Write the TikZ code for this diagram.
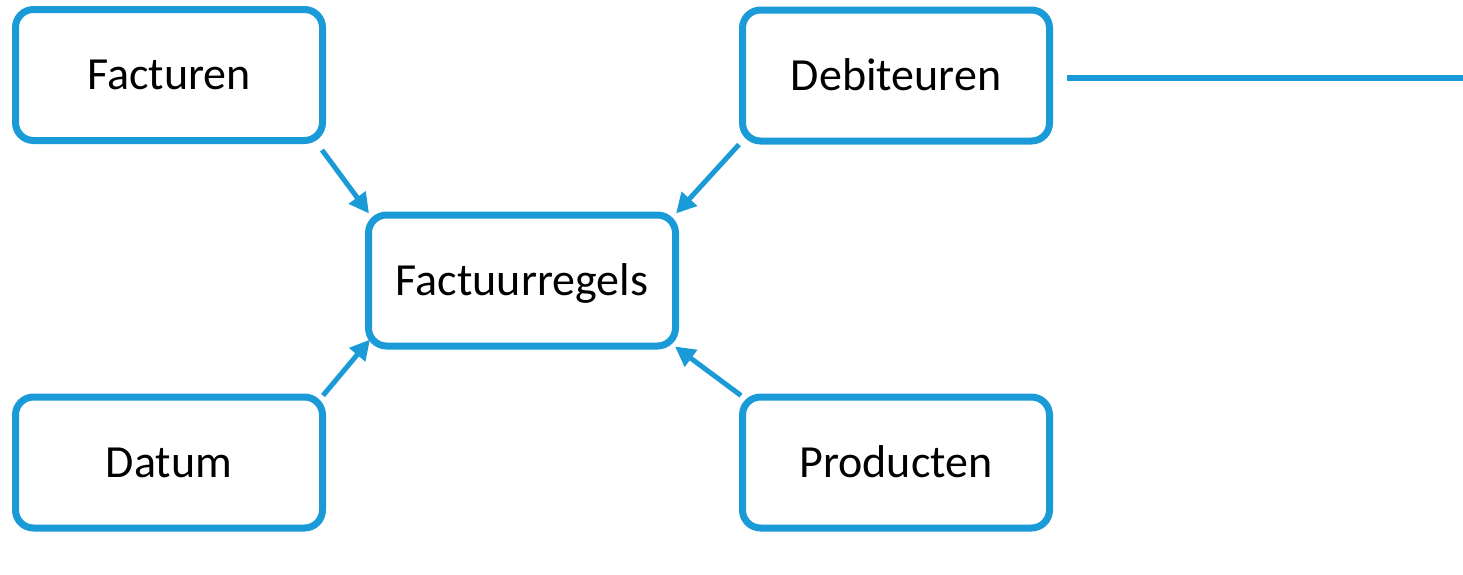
\documentclass[tikz,border=0pt]{standalone}
\usepackage{fontspec}
\setmainfont{Carlito}
\usetikzlibrary{arrows.meta, positioning}
\definecolor{tabelblauw}{HTML}{1A9BD7}

\begin{document}
\begin{tikzpicture}[x=0.5pt, y=-0.5pt,
    tabel/.style={draw=tabelblauw, line width=3.5pt, rectangle, rounded corners=9pt, fill=white, minimum width=153.5pt, minimum height=65.5pt, inner sep=0pt, text height=14.5pt, text depth=0pt, font=\fontsize{23pt}{27pt}\selectfont},
    relatie/.style={draw=tabelblauw, line width=2.5pt, -{Triangle[length=10pt, width=10pt]}}]
                \useasboundingbox (0,0) rectangle (1463,574);
                % Tabellen
                \node[tabel] (fac) at (169, 75) {Facturen};
                \node[tabel] (deb) at (896, 75.5) {Debiteuren};
                \node[tabel] (reg) at (522, 280.5) {Factuurregels};
                \node[tabel] (dat) at (169, 462.5) {Datum};
                \node[tabel] (prod) at (896, 462.5) {Producten};

                % Relaties
                \draw[relatie] ([shift={(-4,6)}]fac.south east) -- ([shift={(4,2)}]reg.north west);
                \draw[relatie] (deb.south west) -- ([shift={(-3,2)}]reg.north east);
                \draw[relatie] ([shift={(-3,2)}]dat.north east) -- ([shift={(5,-10)}]reg.south west);
                \draw[relatie] ([shift={(2,2)}]prod.north west) -- ([shift={(-4,-3)}]reg.south east);

                % Lijn naar rechts
                \coordinate (rand) at (1463, 78);
                \draw[tabelblauw, line width=3pt] ([shift={(14,2.5)}]deb.east) -- (rand);

            \end{tikzpicture}
\end{document}
